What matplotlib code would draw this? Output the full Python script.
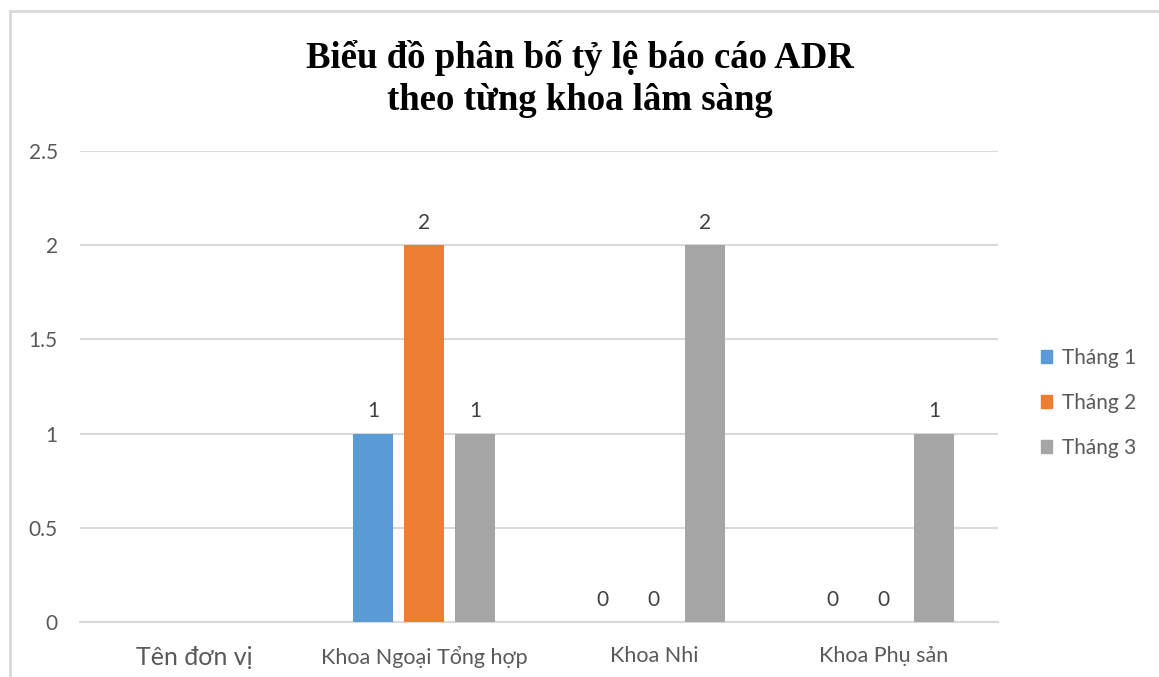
"""ADR report distribution by clinical department, grouped bars by month."""
import matplotlib
matplotlib.use("Agg")
import matplotlib.pyplot as plt
from matplotlib.lines import Line2D
from matplotlib.patches import Patch
import numpy as np

plt.rcParams["font.family"] = ["Lato", "DejaVu Sans"]

categories = ["Tên đơn vị", "Khoa Ngoại Tổng hợp", "Khoa Nhi", "Khoa Phụ sản"]
series_names = ["Tháng 1", "Tháng 2", "Tháng 3"]
thang_1 = [np.nan, 1, 0, 0]
thang_2 = [np.nan, 2, 0, 0]
thang_3 = [np.nan, 1, 2, 1]
yticks = [0, 0.5, 1, 1.5, 2, 2.5]
title = "Biểu đồ phân bố tỷ lệ báo cáo ADR\ntheo từng khoa lâm sàng"

colors = ["#5B9BD5", "#ED7D31", "#A5A5A5"]
grid_color = "#D9D9D9"
text_color = "#595959"
fs = 15

fig = plt.figure(figsize=(11.59, 6.77), dpi=100)
ax = fig.add_axes([80 / 1159, 1 - 622 / 677, (998 - 80) / 1159, (622 - 151) / 677])

x = np.arange(len(categories))
width = 0.174
step = 0.222
for i, (vals, name, c) in enumerate(zip([thang_1, thang_2, thang_3], series_names, colors)):
    bars = ax.bar(x + (i - 1) * step, vals, width, color=c, label=name, zorder=3)
    ax.bar_label(bars, padding=9, fontsize=fs, color="#404040")

ax.set_xlim(-0.5, len(categories) - 0.5)
ax.set_ylim(0, 2.5)
ax.set_yticks(yticks)
ax.set_yticklabels([f"{t:g}" for t in yticks])
ax.set_xticks(x)
ax.set_xticklabels(categories)
ax.tick_params(axis="both", length=0, labelsize=fs, labelcolor=text_color)
ax.tick_params(axis="x", pad=17, labelsize=15.5)
ax.tick_params(axis="y", pad=16)
# the first category label is set larger in the original
ax.get_xticklabels()[0].set_fontsize(18)
ax.grid(axis="y", color=grid_color, lw=1.5, zorder=0)
for s in ["left", "right", "top"]:
    ax.spines[s].set_visible(False)
ax.spines["bottom"].set_color(grid_color)
ax.spines["bottom"].set_linewidth(1.5)

fig.text(0.5, 1 - 79 / 677, title, ha="center", va="center", fontsize=26.5,
         fontweight="bold", family="Liberation Serif", linespacing=1.25)

handles = [Patch(color=c) for c in colors]
ax.legend(handles, series_names, loc="center left", bbox_to_anchor=(1.0, 0.465),
          frameon=False, fontsize=fs, labelcolor=text_color,
          handlelength=0.55, handleheight=0.55, handletextpad=0.45,
          labelspacing=1.2, borderaxespad=1.65)

# light frame round the chart area (cut off at right and bottom)
fig.add_artist(Line2D([10 / 1159, 1], [1 - 11 / 677] * 2, color=grid_color, lw=2))
fig.add_artist(Line2D([10 / 1159] * 2, [0, 1 - 11 / 677], color=grid_color, lw=2))

fig.savefig("out.png", dpi=100)
